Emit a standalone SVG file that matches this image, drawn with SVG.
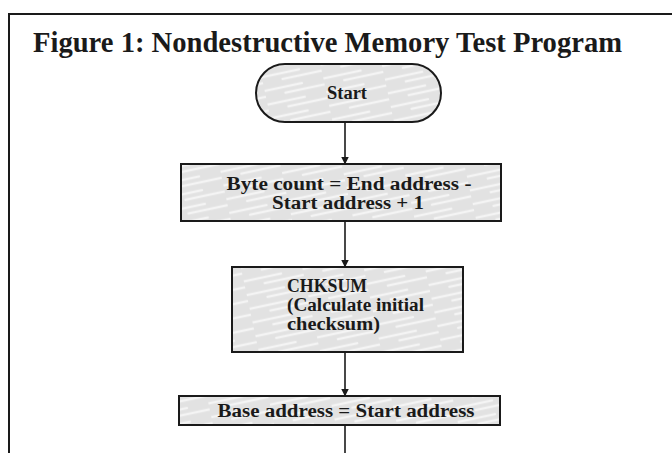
<svg xmlns="http://www.w3.org/2000/svg" width="672" height="453" viewBox="0 0 672 453">
  <defs>
    <!-- light grey screen with soft diagonal streaks used as node fill -->
    <pattern id="screen" width="60" height="14" patternUnits="userSpaceOnUse" patternTransform="rotate(-12)">
      <rect width="60" height="14" fill="#e2e2e2"/>
      <path d="M0 4 H38 M20 10 H60" stroke="#f4f4f4" stroke-width="2.5" stroke-linecap="round"/>
    </pattern>
    <marker id="arrow" viewBox="0 0 8 10" refX="7.5" refY="5" markerWidth="8" markerHeight="10" markerUnits="userSpaceOnUse" orient="auto">
      <path d="M0 1 L8 5 L0 9 Z" fill="#1a1a1a"/>
    </marker>
  </defs>
  <style>
    .frame { fill: none; stroke: #1a1a1a; stroke-width: 2; }
    .title { font-family: "Liberation Serif", "DejaVu Serif", serif; font-weight: bold; font-size: 30px; fill: #1a1a1a; }
    .node  { fill: url(#screen); stroke: #1a1a1a; stroke-width: 2; }
    .label { font-family: "Liberation Serif", "DejaVu Serif", serif; font-weight: bold; font-size: 18px; fill: #1a1a1a; }
    .mid   { text-anchor: middle; }
    .edge  { fill: none; stroke: #1a1a1a; stroke-width: 1.6; }
  </style>

  <rect width="672" height="453" fill="#ffffff"/>

  <!-- page frame: top and left rules -->
  <path class="frame" d="M9 453 V14 H672"/>

  <text class="title" x="33" y="52" textLength="589" lengthAdjust="spacingAndGlyphs">Figure 1: Nondestructive Memory Test Program</text>

  <g id="start">
    <rect class="node" x="256" y="64" width="185" height="58" rx="29" ry="29"/>
    <text class="label mid" x="347" y="99" font-size="16" textLength="40" lengthAdjust="spacingAndGlyphs">Start</text>
  </g>

  <g id="byte-count">
    <rect class="node" x="181" y="164" width="320" height="57"/>
    <text class="label mid" x="349" y="190" textLength="245" lengthAdjust="spacingAndGlyphs">Byte count = End address -</text>
    <text class="label mid" x="348" y="209" textLength="152" lengthAdjust="spacingAndGlyphs">Start address + 1</text>
  </g>

  <g id="chksum">
    <rect class="node" x="232" y="267" width="231" height="85"/>
    <text class="label" x="287" y="292" textLength="80" lengthAdjust="spacingAndGlyphs">CHKSUM</text>
    <text class="label" x="287" y="311" textLength="137" lengthAdjust="spacingAndGlyphs">(Calculate initial</text>
    <text class="label" x="287" y="330" textLength="93" lengthAdjust="spacingAndGlyphs">checksum)</text>
  </g>

  <g id="base-address">
    <rect class="node" x="179" y="396" width="321" height="29"/>
    <text class="label mid" x="346" y="417" textLength="257" lengthAdjust="spacingAndGlyphs">Base address = Start address</text>
  </g>

  <g id="connectors">
    <path class="edge" d="M345 122 V164" marker-end="url(#arrow)"/>
    <path class="edge" d="M345 221 V267" marker-end="url(#arrow)"/>
    <path class="edge" d="M345 352 V396" marker-end="url(#arrow)"/>
    <path class="edge" d="M345 425 V453"/>
  </g>
</svg>
